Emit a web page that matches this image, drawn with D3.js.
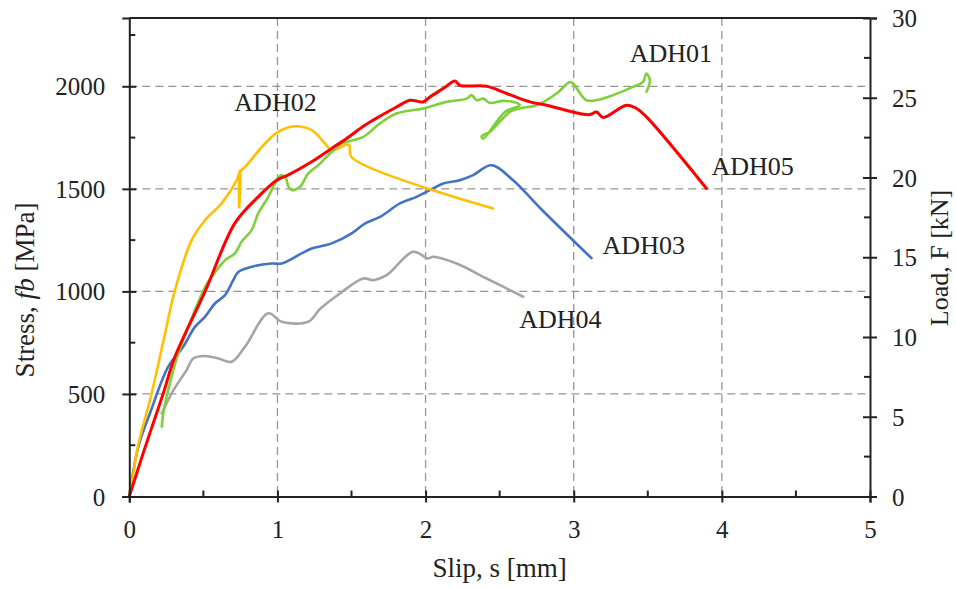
<!DOCTYPE html>
<html>
<head>
<meta charset="utf-8">
<script src="https://cdn.jsdelivr.net/npm/d3@7"></script>
<style>
    body { margin: 0; background: #fff; }
    text { font-family: "Liberation Serif", "Times New Roman", serif; fill: #222; }
</style>
</head>
<body>
<div id="chart"></div>
<script>
// Slip [mm] / stress [MPa]
const slip01 = [0.219, 0.229, 0.263, 0.331, 0.522, 0.556, 0.646, 0.713, 0.758, 0.826, 0.870, 0.938, 0.983, 1.028, 1.057, 1.073, 1.096, 1.152, 1.208, 1.275, 1.343, 1.433, 1.467, 1.579, 1.692, 1.804, 1.984, 2.142, 2.277, 2.310, 2.344, 2.389, 2.434, 2.524, 2.614, 2.636, 2.535, 2.389, 2.378, 2.434, 2.569, 2.636, 2.749, 2.884, 2.974, 2.996, 3.086, 3.176, 3.266, 3.401, 3.468, 3.491, 3.514, 3.491];
const stress01 = [340, 405, 519, 698, 1035, 1071, 1152, 1185, 1242, 1299, 1380, 1461, 1526, 1567, 1552, 1513, 1494, 1510, 1575, 1615, 1664, 1721, 1729, 1753, 1819, 1867, 1892, 1924, 1940, 1957, 1932, 1940, 1919, 1929, 1919, 1908, 1875, 1745, 1757, 1778, 1875, 1892, 1908, 1965, 2021, 2013, 1932, 1936, 1957, 1997, 2021, 2062, 2029, 1973];

const slip02 = [0, 0.02, 0.06, 0.150, 0.24, 0.308, 0.421, 0.511, 0.623, 0.725, 0.750, 0.742, 0.752, 0.782, 0.916, 1.005, 1.118, 1.231, 1.321, 1.366, 1.482, 1.501, 2.456];
const stress02 = [0, 80, 250, 500, 790, 1006, 1250, 1347, 1429, 1542, 1590, 1410, 1585, 1607, 1721, 1778, 1805, 1786, 1721, 1688, 1715, 1654, 1404];

const slip03 = [0, 0.061, 0.140, 0.263, 0.364, 0.443, 0.511, 0.578, 0.646, 0.702, 0.736, 0.826, 0.961, 1.028, 1.163, 1.231, 1.366, 1.501, 1.590, 1.692, 1.827, 1.939, 2.051, 2.119, 2.231, 2.321, 2.445, 2.591, 2.771, 3.120];
const stress03 = [0, 243, 407, 633, 730, 827, 876, 941, 982, 1055, 1095, 1120, 1136, 1136, 1185, 1209, 1234, 1283, 1331, 1363, 1429, 1461, 1502, 1526, 1542, 1567, 1615, 1542, 1408, 1162];

const slip04 = [0.219, 0.286, 0.342, 0.387, 0.432, 0.511, 0.601, 0.691, 0.781, 0.938, 1.028, 1.208, 1.287, 1.422, 1.579, 1.646, 1.737, 1.916, 2.018, 2.051, 2.209, 2.412, 2.659];
const stress04 = [405, 503, 568, 616, 673, 685, 673, 657, 730, 893, 852, 852, 914, 990, 1063, 1055, 1079, 1193, 1161, 1169, 1136, 1063, 974];

const slip05 = [0, 0.1, 0.228, 0.308, 0.511, 0.713, 0.870, 0.995, 1.071, 1.231, 1.366, 1.467, 1.590, 1.646, 1.804, 1.894, 1.984, 2.029, 2.119, 2.198, 2.231, 2.412, 2.547, 2.704, 2.817, 3.041, 3.109, 3.154, 3.198, 3.356, 3.424, 3.491, 3.896];
const stress05 = [0, 225, 500, 681, 999, 1333, 1461, 1542, 1567, 1632, 1697, 1746, 1810, 1835, 1899, 1932, 1924, 1948, 1989, 2026, 2005, 2000, 1965, 1924, 1908, 1867, 1862, 1875, 1848, 1908, 1892, 1851, 1502];

const names = ["ADH01", "ADH02", "ADH03", "ADH04", "ADH05"];
const colors = ["#7fd13b", "#ffc000", "#4472c4", "#a5a5a5", "#ff0000"];

// axis ticks
const xTicks = [0, 1, 2, 3, 4, 5];
const xMinor = [0.5, 1.5, 2.5, 3.5, 4.5];
const yTicks = [0, 500, 1000, 1500, 2000];
const yMinor = [250, 750, 1250, 1750, 2250];
const loadTicks = [0, 5, 10, 15, 20, 25, 30];
const loadMinor = [2.5, 7.5, 12.5, 17.5, 22.5, 27.5];

// where each curve name sits (slip, stress at text baseline)
const labelSlip = [3.378, 0.709, 3.195, 2.632, 3.93];
const labelStress = [2119, 1878, 1182, 822, 1566];

const width = 956, height = 589;
const plotLeft = 129.3, plotRight = 870, plotTop = 18, plotBottom = 496.5;

const svg = d3.select("#chart")
    .append("svg")
    .attr("width", width)
    .attr("height", height);

const x = d3.scaleLinear().domain([0, 5]).range([plotLeft, plotRight]);
const y = d3.scaleLinear().domain([0, 2333]).range([plotBottom, plotTop]);
const yLoad = d3.scaleLinear().domain([0, 30]).range([plotBottom, plotTop]);

// grid
const grid = svg.append("g")
    .attr("stroke", "#959595")
    .attr("stroke-width", 1.3)
    .attr("stroke-dasharray", "8,5");

grid.selectAll(".vgrid")
    .data(xTicks.slice(1, -1))
    .enter()
    .append("line")
    .attr("x1", d => x(d)).attr("x2", d => x(d))
    .attr("y1", plotTop).attr("y2", plotBottom);

grid.selectAll(".hgrid")
    .data(yTicks.slice(1))
    .enter()
    .append("line")
    .attr("x1", plotLeft).attr("x2", plotRight)
    .attr("y1", d => y(d)).attr("y2", d => y(d));

// curves
const series = [
    [slip01, stress01],
    [slip02, stress02],
    [slip03, stress03],
    [slip04, stress04],
    [slip05, stress05]
];

const line = d3.line()
    .curve(d3.curveCatmullRom.alpha(0.5))
    .x(d => x(d[0]))
    .y(d => y(d[1]));

const drawOrder = [3, 2, 1, 0, 4];
drawOrder.forEach(function(i) {
    const pts = series[i][0].map((s, k) => [s, series[i][1][k]]);
    svg.append("path")
        .datum(pts)
        .attr("d", line)
        .attr("fill", "none")
        .attr("stroke", colors[i])
        .attr("stroke-width", i == 4 ? 3 : 2.6)
        .attr("stroke-linejoin", "round")
        .attr("stroke-linecap", "round");
});

// frame top
svg.append("line")
    .attr("x1", plotLeft).attr("x2", plotRight)
    .attr("y1", plotTop).attr("y2", plotTop)
    .attr("stroke", "#222").attr("stroke-width", 2);

// axes
const xAxis = svg.append("g")
    .attr("transform", `translate(0,${plotBottom})`)
    .call(d3.axisBottom(x).tickValues(xTicks).tickFormat(d3.format("d")).tickSize(6));

const yAxis = svg.append("g")
    .attr("transform", `translate(${plotLeft},0)`)
    .call(d3.axisLeft(y).tickValues(yTicks).tickFormat(d3.format("d")).tickSize(7));

const rAxis = svg.append("g")
    .attr("transform", `translate(${plotRight},0)`)
    .call(d3.axisRight(yLoad).tickValues(loadTicks).tickFormat(d3.format("d")).tickSize(7));

[xAxis, yAxis, rAxis].forEach(function(g) {
    g.select(".domain").attr("stroke", "#222").attr("stroke-width", 2);
    g.selectAll(".tick line").attr("stroke", "#222").attr("stroke-width", 2);
    g.selectAll("text").style("font-size", "25px").attr("fill", "#222");
});

xAxis.selectAll(".tick line").attr("y1", -6);
xAxis.selectAll("text").attr("y", 41).attr("dy", 0);
yAxis.selectAll(".tick line").attr("x1", 7);
yAxis.selectAll("text").attr("x", -24).attr("dy", "0.34em");
rAxis.selectAll(".tick line").attr("x1", -7);
rAxis.selectAll("text").attr("x", 22).attr("dy", "0.34em");

// minor ticks (inside)
const minor = svg.append("g").attr("stroke", "#222").attr("stroke-width", 2);
minor.selectAll(".mx").data(xMinor).enter().append("line")
    .attr("x1", d => x(d)).attr("x2", d => x(d))
    .attr("y1", plotBottom).attr("y2", plotBottom - 6);
minor.selectAll(".my").data(yMinor).enter().append("line")
    .attr("x1", plotLeft).attr("x2", plotLeft + 6)
    .attr("y1", d => y(d)).attr("y2", d => y(d));
minor.selectAll(".mr").data(loadMinor).enter().append("line")
    .attr("x1", plotRight).attr("x2", plotRight - 6)
    .attr("y1", d => yLoad(d)).attr("y2", d => yLoad(d));

// axis titles
svg.append("text")
    .attr("x", (plotLeft + plotRight) / 2)
    .attr("y", 577)
    .attr("text-anchor", "middle")
    .style("font-size", "27px")
    .text("Slip, s [mm]");

const yTitle = svg.append("text")
    .attr("transform", "translate(34,290) rotate(-90)")
    .attr("text-anchor", "middle")
    .style("font-size", "27px");
yTitle.append("tspan").text("Stress, ");
yTitle.append("tspan").style("font-style", "italic").text("fb");
yTitle.append("tspan").text(" [MPa]");

svg.append("text")
    .attr("transform", "translate(948,258) rotate(-90)")
    .attr("text-anchor", "middle")
    .style("font-size", "26px")
    .text("Load, F [kN]");

// curve labels
svg.selectAll(".lbl")
    .data(names)
    .enter()
    .append("text")
    .attr("x", (d, i) => x(labelSlip[i]))
    .attr("y", (d, i) => y(labelStress[i]))
    .style("font-size", "26px")
    .text(d => d);
</script>
</body>
</html>
